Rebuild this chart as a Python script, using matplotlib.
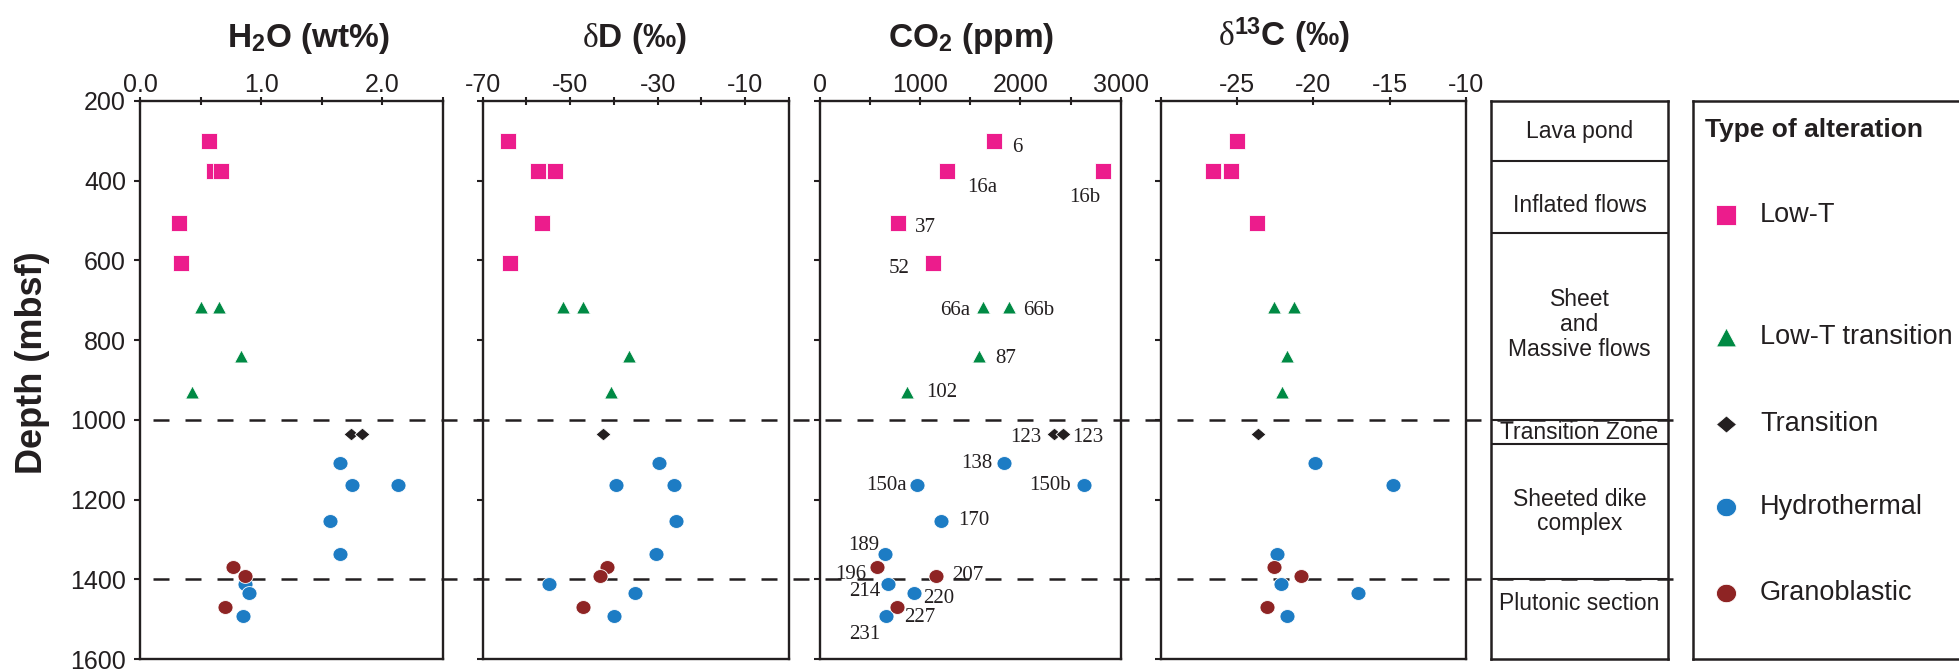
import numpy as np
import matplotlib.pyplot as plt
from matplotlib.path import Path
from matplotlib.transforms import blended_transform_factory

plt.rcParams['font.family'] = ['Liberation Sans', 'DejaVu Sans']
plt.rcParams['mathtext.fontset'] = 'custom'
plt.rcParams['mathtext.rm'] = 'Liberation Serif'
plt.rcParams['mathtext.it'] = 'Liberation Serif:italic'
plt.rcParams['mathtext.bf'] = 'Liberation Sans:bold'

# ---- data ----
samples = ['6', '16a', '16b', '37', '52', '66a', '66b', '87', '102', '123', '123',
           '138', '150a', '150b', '170', '189', '196', '207', '214', '220', '227', '231']
alteration = ['Low-T'] * 5 + ['Low-T transition'] * 4 + ['Transition'] * 2 + \
             ['Hydrothermal'] * 5 + ['Granoblastic'] * 2 + ['Hydrothermal'] * 2 + \
             ['Granoblastic'] + ['Hydrothermal']
depth = [300, 375, 375, 507, 606, 716, 716, 839, 930, 1035, 1035,
         1108, 1163, 1163, 1254, 1337, 1370, 1391, 1413, 1435, 1470, 1493]
h2o = [0.57, 0.61, 0.67, 0.32, 0.34, 0.50, 0.65, 0.83, 0.43, 1.74, 1.83,
       1.65, 1.75, 2.13, 1.57, 1.65, 0.77, 0.87, 0.87, 0.90, 0.70, 0.85]
dD = [-64.3, -57.3, -53.5, -56.4, -63.8, -51.6, -47.0, -36.5, -40.7, -42.5, np.nan,
      -29.8, -39.6, -26.2, -25.9, -30.4, -41.6, -43.2, -54.8, -35.1, -47.0, -40.0]
co2 = [1736, 1267, 2828, 782, 1125, 1630, 1890, 1587, 865, 2335, 2428,
       1840, 971, 2631, 1207, 649, 566, 1158, 675, 941, 772, 659]
d13c = [-25.0, -26.55, -25.4, -23.7, np.nan, -22.6, -21.3, -21.7, -22.05, -23.6, np.nan,
        -19.9, np.nan, -14.8, np.nan, -22.4, -22.6, -20.8, -22.1, -17.1, -23.05, -21.7]

groups = ['Low-T', 'Low-T transition', 'Transition', 'Hydrothermal', 'Granoblastic']
group_colors = ['#ec1c8c', '#008a44', '#231f20', '#1d7cc4', '#8e2424']

depth_ticks = [200, 400, 600, 800, 1000, 1200, 1400, 1600]
h2o_ticks = [0, 0.5, 1.0, 1.5, 2.0, 2.5]
h2o_ticklabels = ['0.0', '', '1.0', '', '2.0', '']
dD_ticks = [-70, -60, -50, -40, -30, -20, -10, 0]
dD_ticklabels = ['-70', '', '-50', '', '-30', '', '-10', '']
co2_ticks = [0, 500, 1000, 1500, 2000, 2500, 3000]
co2_ticklabels = ['0', '', '1000', '', '2000', '', '3000']
d13c_ticks = [-30, -25, -20, -15, -10]
d13c_ticklabels = ['', '-25', '-20', '-15', '-10']

zone_bounds = [200, 350, 530, 1000, 1060, 1400, 1600]
zone_names = ['Lava pond', 'Inflated flows', 'Sheet\nand\nMassive flows',
              'Transition Zone', 'Sheeted dike\ncomplex', 'Plutonic section']
boundary_depths = [1000, 1400]

# ---- marker shapes ----
t = np.linspace(0, 2 * np.pi, 64)
ellipse = Path(np.c_[np.cos(t), 0.92 * np.sin(t)], closed=True)
rect = Path([(-1, -0.97), (1, -0.97), (1, 0.97), (-1, 0.97), (-1, -0.97)], closed=True)
tri = Path([(-1, -0.93), (1, -0.93), (0, 0.93), (-1, -0.93)], closed=True)
diam = Path([(-1, 0), (0, -0.85), (1, 0), (0, 0.85), (-1, 0)], closed=True)
group_markers = [rect, tri, diam, ellipse, ellipse]
group_ms = [12.0, 10.0, 10.8, 10.8, 10.8]
legend_ms = [15, 14.5, 14.5, 14.4, 14.4]

INK = '#231f20'
W, H = 1959, 671
TOP, BOT = 101.0, 659.0
fig = plt.figure(figsize=(W / 100, H / 100), dpi=100)


def box(x0, x1, y0=TOP, y1=BOT):
    return [x0 / W, 1 - y1 / H, (x1 - x0) / W, (y1 - y0) / H]


alt = np.array(alteration)
dep = np.array(depth, dtype=float)

panels = [
    (h2o, (0, 2.5), h2o_ticks, h2o_ticklabels, r'H$_\mathbf{2}$O (wt%)', 308, (140, 443)),
    (dD, (-70, 0), dD_ticks, dD_ticklabels, r'$\mathrm{\delta}$D (‰)', 634, (482.7, 789)),
    (co2, (0, 3000), co2_ticks, co2_ticklabels, r'CO$_\mathbf{2}$ (ppm)', 971, (820, 1120.7)),
    (d13c, (-30, -10), d13c_ticks, d13c_ticklabels, r'$\mathrm{\delta}^\mathbf{13}$C (‰)', 1284, (1160.7, 1466)),
]

axes = []
for i, (vals, xlim, ticks, labels, title, tx, (x0, x1)) in enumerate(panels):
    ax = fig.add_axes(box(x0, x1))
    ax.set_facecolor('none')
    vals = np.array(vals, dtype=float)
    for g, c, m, ms in zip(groups, group_colors, group_markers, group_ms):
        sel = alt == g
        ax.plot(vals[sel], dep[sel], ls='none', marker=m, ms=ms, mfc=c,
                mec='white', mew=0.6, zorder=3)
    ax.set_xlim(*xlim)
    ax.set_ylim(1600, 200)
    ax.xaxis.tick_top()
    ax.set_xticks(ticks)
    ax.set_xticklabels(labels)
    ax.set_yticks(depth_ticks)
    if i > 0:
        ax.set_yticklabels([])
    ax.tick_params(axis='x', direction='inout', length=6, width=1.5, pad=0,
                   labelsize=18, colors=INK)
    ax.tick_params(axis='y', direction='out', length=4, width=1.5, pad=6,
                   labelsize=18, colors=INK)
    for s in ax.spines.values():
        s.set_linewidth(1.7)
        s.set_color(INK)
    fig.text(tx / W, 1 - 46.5 / H, title, ha='center', va='baseline',
             fontsize=24, fontweight='bold', color=INK)
    axes.append(ax)

# sample labels on the CO2 panel: (dx px, dy px down, ha)
co2_label_pos = [(17.7, 4.2, 'left'), (19.7, 14.5, 'left'), (-3.3, 24.4, 'right'),
                 (16.7, 1.3, 'left'), (-22.7, 3.5, 'right'), (-12.7, 0.9, 'right'),
                 (13.3, 0.9, 'left'), (16, 0.4, 'left'), (19.3, -2.2, 'left'),
                 (-12.3, 1.3, 'right'), (9.3, 1.3, 'left'), (-12, -2.2, 'right'),
                 (-10.7, -1.7, 'right'), (-13, -1.7, 'right'), (17.3, -3.5, 'left'),
                 (-6, -10.7, 'right'), (-10, 4.2, 'right'), (15.7, -3, 'left'),
                 (-7.7, 4.2, 'right'), (9, 3, 'left'), (6.7, 7.7, 'left'),
                 (-6, 15.4, 'right')]
for s, xv, d, (dx, dy, ha) in zip(samples, co2, depth, co2_label_pos):
    axes[2].annotate(s, (xv, d), xytext=(dx * 0.72, -dy * 0.72),
                     textcoords='offset points', ha=ha, va='center_baseline',
                     fontsize=15, family='Liberation Serif', color=INK, zorder=4)

# dashed boundaries running across all panels
tr = blended_transform_factory(fig.transFigure, axes[0].transData)
for d in boundary_depths:
    axes[0].plot([153 / W, 1674 / W], [d, d], transform=tr, color=INK, lw=1.8,
                 ls=(0, (6.4, 6.4)), clip_on=False, zorder=1)

fig.text(33 / W, 1 - 363 / H, 'Depth (mbsf)', rotation=90, ha='center', va='center',
         fontsize=26, fontweight='bold', color=INK)

# stratigraphic column
sax = fig.add_axes(box(1491, 1668))
sax.set_facecolor('none')
sax.set_xlim(0, 1)
sax.set_ylim(1600, 200)
sax.set_xticks([])
sax.set_yticks([])
for s in sax.spines.values():
    s.set_linewidth(1.8)
    s.set_color(INK)
for b in zone_bounds[1:-1]:
    sax.axhline(b, color=INK, lw=1.5)
shift = [2, 22, -5, 2, 0, -38]
for name, top, bot, sh in zip(zone_names, zone_bounds[:-1], zone_bounds[1:], shift):
    sax.text(0.5, (top + bot) / 2 + sh, name, ha='center', va='center',
             fontsize=16.5, color=INK, linespacing=1.1)

# legend box
lax = fig.add_axes([1693 / W, 1 - BOT / H, 0.2, (BOT - TOP) / H])
lax.set_facecolor('none')
lax.set_xlim(0, 1)
lax.set_ylim(0, 1)
lax.set_xticks([])
lax.set_yticks([])
for s in lax.spines.values():
    s.set_linewidth(1.8)
    s.set_color(INK)
lax.text(0.031, 0.948, 'Type of alteration', ha='left', va='center',
         fontsize=19, fontweight='bold', color=INK)
entry_y = [0.795, 0.577, 0.422, 0.272, 0.118]
for g, c, m, ms, y in zip(groups, group_colors, group_markers, legend_ms, entry_y):
    lax.plot([0.0835], [y], ls='none', marker=m, ms=ms, mfc=c, mec='white', mew=0.6)
    lax.text(0.171, y, g, ha='left', va='center', fontsize=19.5, color=INK)

fig.savefig('out.png', dpi=100)
